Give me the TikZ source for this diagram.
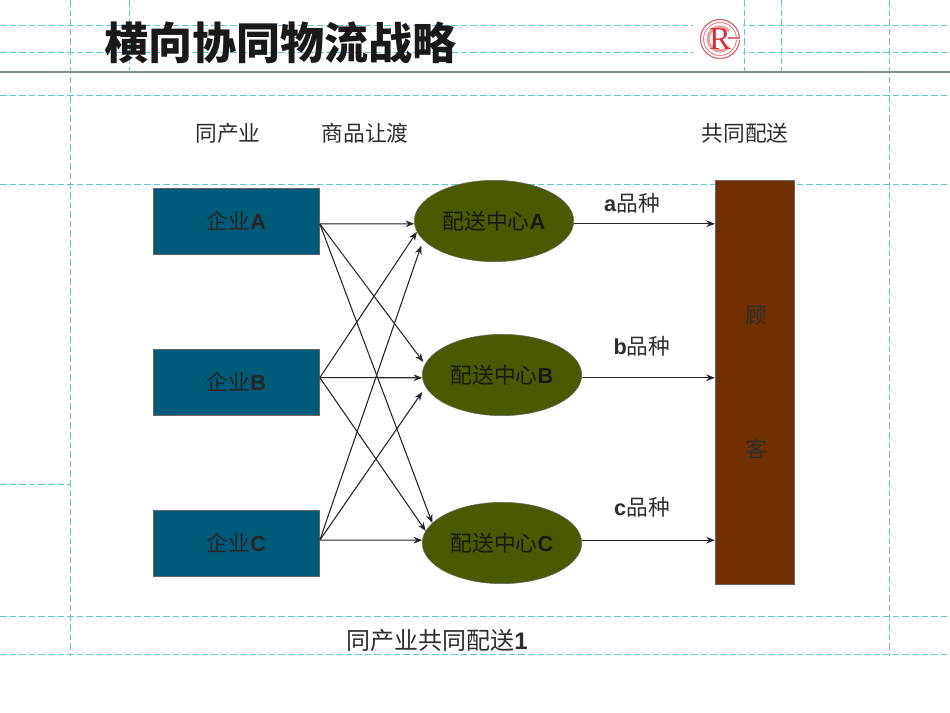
\documentclass[tikz,border=0pt]{standalone}
\usepackage{fontspec}
\setmainfont{Noto Sans CJK SC}
\newfontfamily\latb{Liberation Sans}[BoldFont={Liberation Sans Bold}]
\newfontfamily\rfont{Liberation Serif}
\newcommand{\lb}[1]{{\latb\bfseries #1}}
\usetikzlibrary{arrows.meta,shapes.geometric}
\definecolor{guide}{HTML}{62C6CF}
\definecolor{teal}{HTML}{005B7A}
\definecolor{olive}{HTML}{4A5A00}
\definecolor{brownbar}{HTML}{722F00}
\definecolor{inktext}{HTML}{2E2E2E}
\definecolor{logored}{HTML}{D2323C}
\definecolor{rulegrey}{HTML}{7E9092}
\tikzset{
 x=0.75pt,y=-0.75pt,
 guideh/.style={guide,line width=0.7pt,dash pattern=on 5pt off 2.2pt},
 guidev/.style={guide,line width=0.7pt,dash pattern=on 5pt off 2.2pt},
 firm/.style={rectangle,draw=black!60,line width=0.4pt,fill=teal,minimum width=124.6pt,minimum height=49.4pt,inner sep=0pt,font=\fontsize{16.3}{18}\selectfont,text=black!85},
 center/.style={ellipse,draw=black!60,line width=0.4pt,fill=olive,minimum width=119.5pt,minimum height=61pt,inner sep=0pt,font=\fontsize{16.3}{18}\selectfont,text=black!90},
 lab/.style={inner sep=0pt,font=\fontsize{16.3}{18}\selectfont,text=inktext},
 link/.style={draw=black!85,line width=0.8pt,-{Stealth[length=6.5pt,width=5pt]}},
}
\begin{document}
\begin{tikzpicture}
\useasboundingbox (0,0) rectangle (950,713);
\fill[white] (0,0) rectangle (950,713);
% guides
\foreach \yy in {25,52,95,184,616,654} \draw[guideh] (0,\yy) -- (950,\yy);
\draw[guideh] (0,484) -- (70,484);
\draw[guidev] (70,0) -- (70,656);
\draw[guidev] (889,0) -- (889,656);
\draw[guidev] (129,0) -- (129,72);
\draw[guidev] (744,0) -- (744,72);
\draw[guidev] (781,0) -- (781,72);
\draw[rulegrey,line width=1pt] (0,72) -- (950,72);
% title
\node[anchor=west,inner sep=0pt,font=\fontsize{33}{38}\bfseries\selectfont,text=black!90] (title) at (104,43) {横向协同物流战略};
% logo
\fill[white] (693,20) rectangle (743,62);
\draw[logored!75,line width=0.9pt] (720,39) circle[radius=19.5];
\draw[logored!60,line width=0.7pt] (720,39) circle[radius=16.5];
\draw[logored!45,line width=2.4pt] (729.2,46.7) arc[start angle=40,end angle=320,radius=12];
\node[inner sep=0pt,font=\fontsize{24}{24}\selectfont\rfont,text=logored] (logoR) at (720,39) {R};
\draw[white,line width=1.6pt] (732,39) -- (741,39);
\draw[logored!70,line width=0.8pt] (728,38) -- (740,38);
% column heads
\node[lab] (h1) at (228,133) {同产业};
\node[lab] (h2) at (365,133) {商品让渡};
\node[lab] (h3) at (745,133) {共同配送};
% firms
\node[firm] (fa) at (236.5,221) {企业\lb{A}};
\node[firm] (fb) at (236.5,382) {企业\lb{B}};
\node[firm] (fc) at (236.5,543) {企业\lb{C}};
% centres
\node[center] (ca) at (494,221) {配送中心\lb{A}};
\node[center] (cb) at (502,375) {配送中心\lb{B}};
\node[center] (cc) at (502,543) {配送中心\lb{C}};
% customer
\node[rectangle,draw=black!60,line width=0.4pt,fill=brownbar,minimum width=59pt,minimum height=303pt,inner sep=0pt] (cust) at (754.5,382) {};
\node[lab] (k1) at (756,316) {顾};
\node[lab] (k2) at (756,449) {客};
% links
\draw[link] (fa.-2) -- (ca.182);
\draw[link,shorten >=2pt] (fa.-2) -- (cb.172.7);
\draw[link] (fa.-2) -- (cc.164.5);
\draw[link] (fb.3) -- (ca.188.6);
\draw[link] (fb.3) -- (cb.182);
\draw[link] (fb.3) -- (cc.171.5);
\draw[link,shorten >=4.5pt] (fc.2) -- (ca.195.9);
\draw[link,shorten >=4.5pt] (fc.2) -- (cb.189);
\draw[link] (fc.2) -- (cc.178);
\draw[link] (ca.-2) -- (cust.west |- ca.-2);
\draw[link] (cb.-2) -- (cust.west |- cb.-2);
\draw[link] (cc.2) -- (cust.west |- cc.2);
% variety labels
\node[lab] (va) at (632,203) {\lb{a}品种};
\node[lab] (vb) at (642,346) {\lb{b}品种};
\node[lab] (vc) at (642,507) {\lb{c}品种};
\node[lab,font=\fontsize{18}{20}\selectfont] (cap) at (437,640) {同产业共同配送\lb{1}};
\end{tikzpicture}
\end{document}
